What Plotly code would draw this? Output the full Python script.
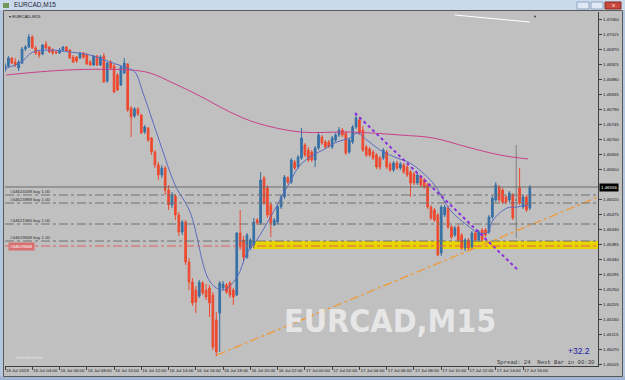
import plotly.graph_objects as go

# ---------------- data ----------------
bar_open = [
    1.46907, 1.46919, 1.46943, 1.46931, 1.46913, 1.46928, 1.46970, 1.46976, 1.47006, 1.46973,
    1.46961, 1.46955, 1.46985, 1.46976, 1.46967, 1.46961, 1.46958, 1.46967, 1.46976, 1.46967,
    1.46946, 1.46946, 1.46943, 1.46958, 1.46952, 1.46931, 1.46922, 1.46949, 1.46922, 1.46949,
    1.46874, 1.46931, 1.46919, 1.46892, 1.46862, 1.46898, 1.46925, 1.46793, 1.46769, 1.46790,
    1.46772, 1.46721, 1.46733, 1.46703, 1.46661, 1.46622, 1.46592, 1.46613, 1.46547, 1.46502,
    1.46529, 1.46472, 1.46421, 1.46451, 1.46331, 1.46271, 1.46247, 1.46229, 1.46268, 1.46247,
    1.46253, 1.46232, 1.46157, 1.46178, 1.46253, 1.46262, 1.46268, 1.46247, 1.46232, 1.46418,
    1.46397, 1.46346, 1.46373, 1.46382, 1.46457, 1.46448, 1.46583, 1.46553, 1.46502, 1.46442,
    1.46451, 1.46496, 1.46526, 1.46583, 1.46571, 1.46631, 1.46616, 1.46643, 1.46682, 1.46667,
    1.46661, 1.46637, 1.46673, 1.46706, 1.46691, 1.46691, 1.46676, 1.46697, 1.46712, 1.46727,
    1.46718, 1.46661, 1.46691, 1.46736, 1.46757, 1.46727, 1.46676, 1.46670, 1.46661, 1.46652,
    1.46643, 1.46643, 1.46661, 1.46625, 1.46607, 1.46628, 1.46613, 1.46622, 1.46616, 1.46601,
    1.46595, 1.46568, 1.46586, 1.46577, 1.46562, 1.46496, 1.46487, 1.46472, 1.46358, 1.46472,
    1.46493, 1.46436, 1.46412, 1.46436, 1.46412, 1.46373, 1.46397, 1.46376, 1.46418, 1.46397,
    1.46427, 1.46427, 1.46421, 1.46466, 1.46517, 1.46556, 1.46547, 1.46526, 1.46517, 1.46532,
    1.46517, 1.46553, 1.46496, 1.46526, 1.46493,
]
bar_high = [
    1.46928, 1.46949, 1.46946, 1.46943, 1.46937, 1.46976, 1.46982, 1.47015, 1.47012, 1.46979,
    1.46967, 1.46985, 1.46994, 1.46979, 1.46973, 1.46967, 1.46973, 1.46979, 1.46979, 1.46970,
    1.46952, 1.46949, 1.46961, 1.46961, 1.46958, 1.46937, 1.46952, 1.46952, 1.46952, 1.46958,
    1.46931, 1.46937, 1.46925, 1.46898, 1.46919, 1.46943, 1.46928, 1.46799, 1.46796, 1.46796,
    1.46775, 1.46742, 1.46736, 1.46706, 1.46667, 1.46631, 1.46622, 1.46619, 1.46562, 1.46541,
    1.46535, 1.46481, 1.46457, 1.46457, 1.46343, 1.46283, 1.46259, 1.46277, 1.46274, 1.46265,
    1.46262, 1.46241, 1.46181, 1.46274, 1.46274, 1.46268, 1.46274, 1.46253, 1.46421, 1.46487,
    1.46409, 1.46418, 1.46403, 1.46463, 1.46463, 1.46601, 1.46589, 1.46562, 1.46508, 1.46463,
    1.46502, 1.46532, 1.46592, 1.46589, 1.46643, 1.46637, 1.46652, 1.46733, 1.46688, 1.46676,
    1.46667, 1.46679, 1.46721, 1.46712, 1.46697, 1.46697, 1.46709, 1.46718, 1.46736, 1.46733,
    1.46724, 1.46703, 1.46742, 1.46778, 1.46766, 1.46739, 1.46682, 1.46676, 1.46667, 1.46658,
    1.46649, 1.46673, 1.46667, 1.46631, 1.46634, 1.46634, 1.46631, 1.46628, 1.46622, 1.46607,
    1.46601, 1.46598, 1.46592, 1.46583, 1.46568, 1.46502, 1.46493, 1.46478, 1.46502, 1.46502,
    1.46499, 1.46442, 1.46439, 1.46442, 1.46418, 1.46403, 1.46403, 1.46424, 1.46424, 1.46427,
    1.46433, 1.46433, 1.46472, 1.46529, 1.46571, 1.46562, 1.46553, 1.46532, 1.46544, 1.46538,
    1.46682, 1.46613, 1.46532, 1.46532, 1.46562,
]
bar_low = [
    1.46901, 1.46913, 1.46925, 1.46916, 1.46904, 1.46925, 1.46964, 1.46973, 1.46970, 1.46952,
    1.46943, 1.46952, 1.46970, 1.46958, 1.46952, 1.46955, 1.46955, 1.46961, 1.46961, 1.46940,
    1.46928, 1.46928, 1.46940, 1.46940, 1.46922, 1.46919, 1.46919, 1.46919, 1.46919, 1.46868,
    1.46868, 1.46907, 1.46838, 1.46844, 1.46859, 1.46895, 1.46781, 1.46706, 1.46763, 1.46769,
    1.46715, 1.46715, 1.46691, 1.46652, 1.46613, 1.46577, 1.46583, 1.46532, 1.46487, 1.46493,
    1.46457, 1.46409, 1.46412, 1.46322, 1.46247, 1.46199, 1.46178, 1.46223, 1.46232, 1.46217,
    1.46166, 1.46067, 1.46049, 1.46061, 1.46247, 1.46235, 1.46223, 1.46202, 1.46229, 1.46367,
    1.46331, 1.46340, 1.46367, 1.46373, 1.46442, 1.46442, 1.46502, 1.46463, 1.46406, 1.46439,
    1.46445, 1.46490, 1.46520, 1.46565, 1.46565, 1.46607, 1.46610, 1.46637, 1.46646, 1.46631,
    1.46631, 1.46616, 1.46667, 1.46682, 1.46670, 1.46673, 1.46670, 1.46691, 1.46706, 1.46706,
    1.46652, 1.46655, 1.46685, 1.46730, 1.46712, 1.46661, 1.46646, 1.46646, 1.46637, 1.46610,
    1.46607, 1.46637, 1.46610, 1.46601, 1.46601, 1.46607, 1.46607, 1.46595, 1.46586, 1.46526,
    1.46562, 1.46562, 1.46556, 1.46550, 1.46490, 1.46457, 1.46451, 1.46349, 1.46349, 1.46466,
    1.46430, 1.46400, 1.46406, 1.46391, 1.46367, 1.46364, 1.46367, 1.46370, 1.46391, 1.46391,
    1.46391, 1.46406, 1.46415, 1.46460, 1.46511, 1.46511, 1.46505, 1.46505, 1.46511, 1.46457,
    1.46403, 1.46502, 1.46490, 1.46481, 1.46487,
]
bar_close = [
    1.46922, 1.46943, 1.46928, 1.46922, 1.46931, 1.46970, 1.46976, 1.47006, 1.46973, 1.46958,
    1.46952, 1.46982, 1.46973, 1.46961, 1.46958, 1.46958, 1.46967, 1.46976, 1.46964, 1.46943,
    1.46931, 1.46934, 1.46958, 1.46946, 1.46925, 1.46922, 1.46949, 1.46922, 1.46946, 1.46871,
    1.46928, 1.46913, 1.46841, 1.46847, 1.46916, 1.46928, 1.46787, 1.46766, 1.46790, 1.46775,
    1.46718, 1.46736, 1.46697, 1.46661, 1.46622, 1.46592, 1.46613, 1.46547, 1.46502, 1.46532,
    1.46472, 1.46421, 1.46451, 1.46331, 1.46271, 1.46208, 1.46211, 1.46271, 1.46238, 1.46226,
    1.46208, 1.46076, 1.46061, 1.46268, 1.46265, 1.46241, 1.46232, 1.46226, 1.46418, 1.46376,
    1.46346, 1.46412, 1.46397, 1.46451, 1.46448, 1.46577, 1.46508, 1.46472, 1.46448, 1.46457,
    1.46496, 1.46526, 1.46586, 1.46571, 1.46637, 1.46613, 1.46646, 1.46703, 1.46652, 1.46637,
    1.46637, 1.46673, 1.46712, 1.46688, 1.46676, 1.46679, 1.46703, 1.46712, 1.46727, 1.46712,
    1.46658, 1.46697, 1.46736, 1.46763, 1.46718, 1.46667, 1.46652, 1.46652, 1.46643, 1.46616,
    1.46616, 1.46667, 1.46616, 1.46607, 1.46628, 1.46613, 1.46625, 1.46601, 1.46592, 1.46568,
    1.46568, 1.46592, 1.46562, 1.46556, 1.46496, 1.46463, 1.46457, 1.46352, 1.46496, 1.46496,
    1.46436, 1.46406, 1.46433, 1.46397, 1.46373, 1.46397, 1.46373, 1.46418, 1.46397, 1.46421,
    1.46397, 1.46412, 1.46466, 1.46523, 1.46562, 1.46517, 1.46511, 1.46511, 1.46538, 1.46463,
    1.46517, 1.46508, 1.46526, 1.46487, 1.46556,
]

# fast MA (blue) and slow MA (magenta): bar index -> price
ma_fast_idx = [0.3, 4.4, 8.2, 13.2, 19.1, 24.9, 30.8, 35.8, 38.1, 40.5, 45.5, 49.9, 54.3, 60.2,
               64, 68.1, 71, 73.9, 76.9, 80.7, 83.6, 86.6, 90.4, 93.3, 97.4, 101.2, 103.3,
               106.2, 110, 115, 118.8, 125.6, 130.6, 135.5, 138.5, 141.4, 143.2, 147.3, 150.2, 153.5]
ma_fast_val = [1.46913, 1.46928, 1.46961, 1.46967, 1.46961, 1.46952, 1.46931, 1.46913, 1.46901,
               1.46838, 1.46688, 1.46562, 1.46481, 1.46271, 1.46247, 1.46286, 1.46358, 1.46397,
               1.46448, 1.46517, 1.46571, 1.46622, 1.46652, 1.46667, 1.46691, 1.46703, 1.46718,
               1.46697, 1.46667, 1.46643, 1.46628, 1.46568, 1.46487, 1.46442, 1.46421, 1.46418,
               1.46457, 1.46493, 1.46496, 1.46502]
ma_slow_idx = [0.3, 18.2, 36.7, 42.5, 49.3, 57.2, 66, 73.9, 86.6, 101.2, 115.9, 125.6, 135.6, 145.2, 153.5]
ma_slow_val = [1.46892, 1.46907, 1.46907, 1.46898, 1.46868, 1.46829, 1.46781, 1.46748, 1.46721,
               1.46721, 1.46712, 1.46703, 1.46676, 1.46652, 1.46640]

# drawn objects
orange_trend_idx = [62.2, 174]
orange_trend_val = [1.46052, 1.46526]
purple_trend_idx = [102.7, 150.5]
purple_trend_val = [1.46778, 1.46307]
white_trend_idx = [132, 154]
white_trend_val = [1.47072, 1.47051]
zone_idx = [72.8, 174]
zone_val = [1.46370, 1.46394]

order_levels = [1.46532, 1.46508, 1.46445, 1.46394]
order_labels = ["#44624038 buy 1.00", "#44623989 buy 1.00", "#44621580 buy 1.00", "#44619848 buy 1.00"]
stop_level = 1.46379
stop_label = "#44619848"
bid_price = 1.46556

price_ticks = ["1.47060", "1.47015", "1.46970", "1.46925", "1.46880", "1.46835", "1.46790", "1.46745",
               "1.46700", "1.46655", "1.46610", "1.46520", "1.46475", "1.46430", "1.46385",
               "1.46340", "1.46295", "1.46250", "1.46205", "1.46160", "1.46115", "1.46070", "1.46025"]
time_labels = ["16 Jul 2019", "16 Jul 04:00", "16 Jul 06:00", "16 Jul 08:00", "16 Jul 10:00",
               "16 Jul 12:00", "16 Jul 14:00", "16 Jul 16:00", "16 Jul 18:00", "16 Jul 20:00",
               "16 Jul 22:00", "17 Jul 00:00", "17 Jul 02:00", "17 Jul 04:00", "17 Jul 06:00",
               "17 Jul 08:00", "17 Jul 10:00", "17 Jul 12:00", "17 Jul 14:00", "17 Jul 16:00"]
BARS_PER_LABEL = 8

# ---------------- figure ----------------
W, H = 625, 380
ML, MR, MT, MB = 5, 27, 12, 14
PW, PH = W - ML - MR, H - MT - MB


def px(x):
    return (x - ML) / PW


def py(y):
    return (H - MB - y) / PH


BG = "#c0c0c0"
UP = "#3570a6"
DN = "#ee4a30"
FONT = "Liberation Sans, Arial, sans-serif"
SMALL = 4.4

n = len(bar_close)
idx = list(range(n))
main = [i for i in idx if bar_open[i] != bar_close[i]]
doji = [i for i in idx if bar_open[i] == bar_close[i]]

fig = go.Figure()

fig.add_trace(go.Scatter(x=ma_slow_idx, y=ma_slow_val, mode="lines",
                         line=dict(color="#c8408c", width=1, shape="spline"), hoverinfo="skip"))

fig.add_trace(go.Candlestick(
    x=[i for i in main], open=[bar_open[i] for i in main], high=[bar_high[i] for i in main],
    low=[bar_low[i] for i in main], close=[bar_close[i] for i in main],
    increasing=dict(line=dict(color=UP, width=1), fillcolor=UP),
    decreasing=dict(line=dict(color=DN, width=1), fillcolor=DN),
    whiskerwidth=0, hoverinfo="skip"))
fig.add_trace(go.Candlestick(
    x=doji, open=[bar_open[i] for i in doji], high=[bar_high[i] for i in doji],
    low=[bar_low[i] for i in doji], close=[bar_close[i] for i in doji],
    increasing=dict(line=dict(color="#808080", width=1), fillcolor="#808080"),
    decreasing=dict(line=dict(color="#808080", width=1), fillcolor="#808080"),
    whiskerwidth=0, hoverinfo="skip"))

fig.add_trace(go.Scatter(x=ma_fast_idx, y=ma_fast_val, mode="lines",
                         line=dict(color="#5a6cc0", width=1, shape="spline"), hoverinfo="skip"))

fig.add_trace(go.Scatter(x=orange_trend_idx, y=orange_trend_val, mode="lines",
                         line=dict(color="#f09a3a", width=1.3, dash="dashdot"), hoverinfo="skip"))
fig.add_trace(go.Scatter(x=purple_trend_idx, y=purple_trend_val, mode="lines",
                         line=dict(color="#8a2be2", width=2, dash="dot"), hoverinfo="skip"))
fig.add_trace(go.Scatter(x=white_trend_idx, y=white_trend_val, mode="lines",
                         line=dict(color="#ffffff", width=1), hoverinfo="skip"))

shapes = []
# yellow zone
shapes.append(dict(type="rect", xref="x", yref="y", x0=zone_idx[0], x1=zone_idx[1],
                   y0=zone_val[0], y1=zone_val[1], fillcolor="#e8d400", line=dict(width=0),
                   layer="below"))
# bid line
shapes.append(dict(type="line", xref="paper", yref="y", x0=0, x1=1, y0=bid_price, y1=bid_price,
                   line=dict(color="#6a6a6a", width=1)))
for lv in order_levels:
    shapes.append(dict(type="line", xref="paper", yref="y", x0=0, x1=1, y0=lv, y1=lv,
                       line=dict(color="#707070", width=1, dash="dashdot")))
shapes.append(dict(type="line", xref="paper", yref="y", x0=0, x1=1, y0=stop_level, y1=stop_level,
                   line=dict(color="#e06060", width=1, dash="dashdot")))

# window chrome
shapes += [
    dict(type="rect", xref="paper", yref="paper", x0=px(0), x1=px(625), y0=py(10.5), y1=py(0),
         fillcolor="#cbd9ec", line=dict(width=0)),
    dict(type="rect", xref="paper", yref="paper", x0=px(0), x1=px(3.5), y0=py(380), y1=py(10.5),
         fillcolor="#b4c7df", line=dict(width=0)),
    dict(type="rect", xref="paper", yref="paper", x0=px(622.5), x1=px(625), y0=py(380), y1=py(10.5),
         fillcolor="#b4c7df", line=dict(width=0)),
    dict(type="rect", xref="paper", yref="paper", x0=px(0), x1=px(625), y0=py(380), y1=py(376.5),
         fillcolor="#9fb5d2", line=dict(width=0)),
    dict(type="rect", xref="paper", yref="paper", x0=px(3.5), x1=px(622.5), y0=py(376.5), y1=py(10.5),
         fillcolor="rgba(0,0,0,0)", line=dict(color="#5a5a5a", width=1)),
    dict(type="rect", xref="paper", yref="paper", x0=px(577), x1=px(589), y0=py(9), y1=py(2),
         fillcolor="#dfe8f4", line=dict(color="#8fa4c2", width=1)),
    dict(type="rect", xref="paper", yref="paper", x0=px(591), x1=px(603), y0=py(9), y1=py(2),
         fillcolor="#dfe8f4", line=dict(color="#8fa4c2", width=1)),
    dict(type="rect", xref="paper", yref="paper", x0=px(605), x1=px(621), y0=py(9), y1=py(2),
         fillcolor="#c9483c", line=dict(color="#8a2a22", width=1)),
    dict(type="rect", xref="paper", yref="paper", x0=px(3), x1=px(9), y0=py(8), y1=py(3),
         fillcolor="#6d9a5a", line=dict(width=0)),
]

ann = []
ann.append(dict(xref="paper", yref="paper", x=px(12), y=py(5), text="EURCAD,M15", showarrow=False,
                xanchor="left", yanchor="middle", font=dict(family=FONT, size=6.5, color="#1c2636")))
ann.append(dict(xref="paper", yref="paper", x=px(613), y=py(5.5), text="x", showarrow=False,
                xanchor="center", yanchor="middle", font=dict(family=FONT, size=6, color="#ffffff")))
ann.append(dict(xref="paper", yref="paper", x=px(7), y=py(16.5), text="\u25be EURCAD,M15", showarrow=False,
                xanchor="left", yanchor="middle", font=dict(family=FONT, size=SMALL, color="#202020")))
ann.append(dict(xref="paper", yref="paper", x=px(535), y=py(16), text="\u25bc", showarrow=False,
                xanchor="center", yanchor="middle", font=dict(family=FONT, size=4, color="#303030")))
for lv, lab in zip(order_levels, order_labels):
    ann.append(dict(xref="paper", yref="y", x=px(8), y=lv, text=lab, showarrow=False,
                    xanchor="left", yanchor="bottom", yshift=-1,
                    font=dict(family=FONT, size=SMALL, color="#303030")))
ann.append(dict(xref="paper", yref="y", x=px(8), y=stop_level, text=stop_label, showarrow=False,
                xanchor="left", yanchor="middle", bgcolor="#d87070",
                font=dict(family=FONT, size=SMALL, color="#ffffff")))
ann.append(dict(xref="paper", yref="y", x=1, y=bid_price, text="%.5f" % bid_price, showarrow=False,
                xanchor="left", yanchor="middle", xshift=1, bgcolor="#000000", borderpad=1,
                font=dict(family=FONT, size=SMALL, color="#ffffff")))
ann.append(dict(xref="paper", yref="paper", x=px(390), y=py(321), text="<b>EURCAD,M15</b>", showarrow=False,
                xanchor="center", yanchor="middle",
                font=dict(family="Liberation Sans Narrow, DejaVu Sans Condensed, Liberation Sans", size=32,
                          color="rgba(238,238,238,0.85)")))
ann.append(dict(xref="paper", yref="paper", x=px(592), y=py(351), text="+32.2", showarrow=False,
                xanchor="right", yanchor="middle", font=dict(family=FONT, size=8.5, color="#1a1aa8")))
ann.append(dict(xref="paper", yref="paper", x=px(597), y=py(362), text="Spread: 24  Next Bar in 00:30",
                showarrow=False, xanchor="right", yanchor="middle",
                font=dict(family="Liberation Mono, DejaVu Sans Mono, monospace", size=5.6, color="#3a3a3a")))
ann.append(dict(xref="paper", yref="paper", x=px(14), y=py(357), text="SilentStrDolor", showarrow=False,
                xanchor="left", yanchor="middle", font=dict(family=FONT, size=SMALL, color="#e4e4e4")))

fig.update_layout(
    width=W, height=H, margin=dict(l=ML, r=MR, t=MT, b=MB, pad=0, autoexpand=False),
    paper_bgcolor=BG, plot_bgcolor=BG, showlegend=False,
    shapes=shapes, annotations=ann,
    xaxis=dict(range=[0, 174], rangeslider=dict(visible=False), showgrid=False, zeroline=False,
               tickmode="array", tickvals=[k * BARS_PER_LABEL for k in range(len(time_labels))],
               ticktext=time_labels, ticks="outside", ticklen=3, tickcolor="#404040",
               tickangle=0, automargin=False, ticklabelposition="outside right",
               tickfont=dict(family=FONT, size=SMALL, color="#1a1a1a"),
               showline=True, linecolor="#404040", linewidth=1),
    yaxis=dict(range=[1.46019, 1.47081], side="right", showgrid=False, zeroline=False,
               automargin=False,
               tickmode="array", tickvals=[float(t) for t in price_ticks], ticktext=price_ticks,
               ticks="outside", ticklen=3, tickcolor="#404040",
               tickfont=dict(family=FONT, size=SMALL, color="#1a1a1a"),
               showline=True, linecolor="#404040", linewidth=1),
)

fig.write_html("out.html", config={"displayModeBar": False})
